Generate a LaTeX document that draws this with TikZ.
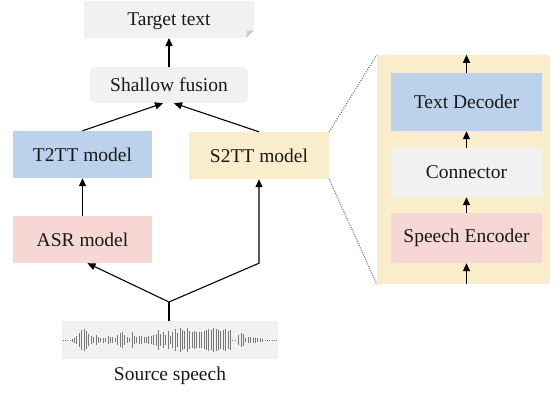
\documentclass[tikz,border=0pt]{standalone}
\usepackage{fontspec}
\setmainfont{Liberation Serif}
\usetikzlibrary{arrows.meta,calc}
\definecolor{cblue}{RGB}{187,209,236}
\definecolor{cpink}{RGB}{247,215,212}
\definecolor{cyellow}{RGB}{250,237,203}
\definecolor{cgray}{RGB}{241,241,241}
\definecolor{cwave}{RGB}{120,120,120}
\tikzset{
  box/.style={draw=none,inner sep=0pt,font=\fontsize{19.5}{22}\selectfont,text=black!90},
  arr/.style={line width=1.1pt,-{Triangle[length=8pt,width=7pt]}},
  conn/.style={line width=1.1pt},
  dots/.style={black!55,line width=1.2pt,dash pattern=on 1pt off 1.5pt},
  bar/.style={cwave,line width=0.8pt},
}
\begin{document}
\begin{tikzpicture}[x=1pt,y=-1pt]
\useasboundingbox (0,0) rectangle (560,394);
% target text with folded corner
\fill[cgray] (84,1) -- (254,1) -- (254,30) -- (246,38) -- (84,38) -- cycle;
\fill[black!20] (254,30) -- (246,38) -- (247,31) -- cycle;
\node[box,minimum width=170pt,minimum height=37pt] (target) at (169,21) {Target text};
\node[box,fill=cgray,rounded corners=5pt,minimum width=158pt,minimum height=36pt] (fusion) at (169,85) {Shallow fusion};
\node[box,fill=cblue,minimum width=139pt,minimum height=47pt] (t2tt) at (82.5,154.5) {T2TT model};
\node[box,fill=cyellow,minimum width=140pt,minimum height=47pt] (s2tt) at (259,155.5) {S2TT model};
\node[box,fill=cpink,minimum width=139pt,minimum height=47pt] (asr) at (82.5,239.5) {ASR model};
\node[box,fill=cgray,minimum width=216pt,minimum height=38pt] (wave) at (170,340) {};
\node[box] (src) at (170,376) {Source speech};
% right panel
\node[box,fill=cyellow,minimum width=173pt,minimum height=229pt] (panel) at (463.5,169.5) {};
\node[box,fill=cblue,minimum width=151pt,minimum height=58pt] (dec) at (466.5,102) {Text Decoder};
\node[box,fill=cgray,minimum width=151pt,minimum height=49pt] (cnt) at (466.5,172.5) {Connector};
\node[box,fill=cpink,minimum width=151pt,minimum height=50pt] (enc) at (466.5,238) {Speech Encoder};
% waveform
\draw[cwave,line width=0.8pt,dash pattern=on 0.8pt off 1.4pt] (63,340) -- (71,340);
\foreach \a [count=\i from 0] in {1.5,2.5,4,7,10,11,9,6,4,3,5,3,
  2,2.5,2,4,3,3,2,5,7,8,5,3,
  2,8,4,3,4,4,3,3,4,4,5,6,
  10,6,8,5,9,4,8,11,7,12,10,9,
  12,9,8,9,8,8,8,9,10,11,10,12,
  11,10,9,10,11,9,10}
  {\draw[bar] ({72+2.4*\i},{340-\a}) -- ({72+2.4*\i},{340+\a});}
\draw[cwave,line width=0.8pt,dash pattern=on 0.8pt off 1.4pt] (228,340) -- (236,340);
\foreach \a [count=\i from 0] in {5,7,6,2,3,3,2.5,2.5,2,2,1.5}
  {\draw[bar] ({238.5+2.4*\i},{340-\a}) -- ({238.5+2.4*\i},{340+\a});}
\draw[cwave,line width=0.8pt,dash pattern=on 0.8pt off 1.4pt] (265,340) -- (277,340);
% connectors
\coordinate (j) at (169,302);
\draw[conn] (wave.north -| j) -- (j);
\draw[arr] (j) -- ([xshift=5pt]asr.south);
\draw[arr] (j) -- (asr.south -| s2tt.south) -- (s2tt.south);
\draw[arr] (asr) -- (t2tt);
\draw[arr] (t2tt.north) -- ([xshift=-6pt]fusion.south);
\draw[arr] (s2tt.north) -- ([xshift=5pt]fusion.south);
\draw[arr] (fusion) -- (target.south |- 0,38);
\draw[dots] (s2tt.north east) -- (panel.north west);
\draw[dots] (s2tt.south east) -- (panel.south west);
\draw[arr] (dec.north) -- (dec.north |- panel.north);
\draw[arr] (cnt) -- (dec);
\draw[arr] (enc) -- (cnt);
\draw[arr] (enc.south |- panel.south) -- (enc.south);
\end{tikzpicture}
\end{document}
